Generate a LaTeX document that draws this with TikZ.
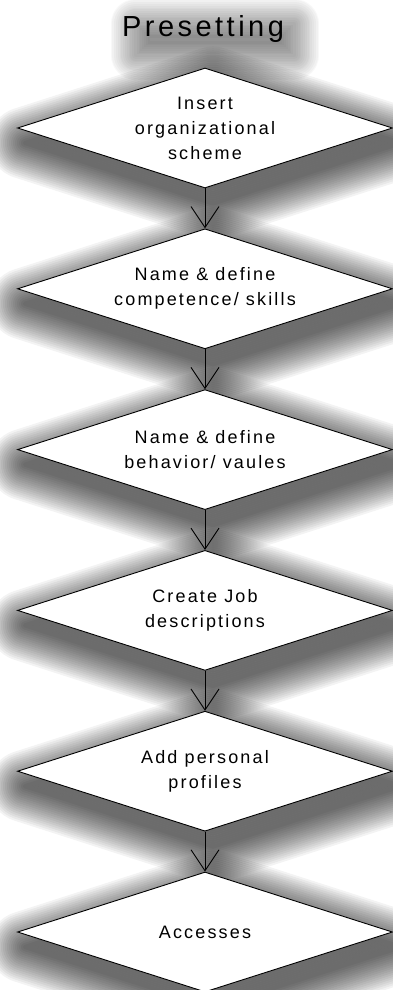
\documentclass[tikz,border=0pt]{standalone}
\usepackage{fontspec}
\setmainfont{Liberation Sans}[LetterSpace=12]
\usetikzlibrary{shapes.geometric,arrows.meta,backgrounds}
\begin{document}
\begin{tikzpicture}[x=1pt,y=-1pt,
  stepbox/.style={diamond, draw, line width=0.9pt, fill=white,
    minimum width=375pt, minimum height=120pt, aspect=3.125, inner sep=0pt,
    align=center, font=\fontsize{18}{25}\selectfont},
  flow/.style={-{Straight Barb[length=21pt,width=28pt]}, line width=0.9pt},
  titlebox/.style={font=\fontsize{29}{34}\selectfont, inner sep=0pt},
  shadowfill/.style={fill=black, fill opacity=0.048, draw=none},
  shadowring/.style={draw=black, draw opacity=0.048, line join=round}]
\useasboundingbox (0,0) rectangle (392,990);
\node[titlebox, anchor=base] (title) at (203,37) {Presetting};
\node[stepbox] (s1) at (205,128) {Insert\\organizational\\scheme};
\node[stepbox] (s2) at (205,288.8) {Name \& define\\competence/ skills};
\node[stepbox] (s3) at (205,449.6) {Name \& define\\behavior/ vaules};
\node[stepbox] (s4) at (205,610.4) {Create Job\\descriptions};
\node[stepbox] (s5) at (205,771.2) {Add personal\\profiles};
\node[stepbox] (s6) at (205,932) {Accesses};
\draw[flow] (s1.south) -- (s2.north);
\draw[flow] (s2.south) -- (s3.north);
\draw[flow] (s3.south) -- (s4.north);
\draw[flow] (s4.south) -- (s5.north);
\draw[flow] (s5.south) -- (s6.north);
\begin{scope}[on background layer]
  % soft shadow behind the title
  \foreach \k in {1,...,14}{
    \path[shadowring, draw opacity=0.026, line width=\k*3.6pt]
      ([shift={(14,12)}]title.south west) rectangle ([shift={(10,8)}]title.north east);
    \path[shadowfill, fill opacity=0.026]
      ([shift={(14+0.9*\k,12-0.9*\k)}]title.south west) rectangle
      ([shift={(10-0.9*\k,8+0.9*\k)}]title.north east);
  }
  % soft shadows behind the diamonds
  \foreach \s in {s1,s2,s3,s4,s5,s6}{
    \foreach \k in {1,...,18}{
      \path[shadowring, line width=\k*4pt]
        ([shift={(8,15)}]\s.west) -- ([shift={(8,15)}]\s.north)
        -- ([shift={(8,15)}]\s.east) -- ([shift={(8,15)}]\s.south) -- cycle;
      \path[shadowfill]
        ([shift={(8-187.5+6.562*\k,15)}]\s.center) --
        ([shift={(8,15-60+2.1*\k)}]\s.center) --
        ([shift={(8+187.5-6.562*\k,15)}]\s.center) --
        ([shift={(8,15+60-2.1*\k)}]\s.center) -- cycle;
    }
  }
\end{scope}
\end{tikzpicture}
\end{document}
